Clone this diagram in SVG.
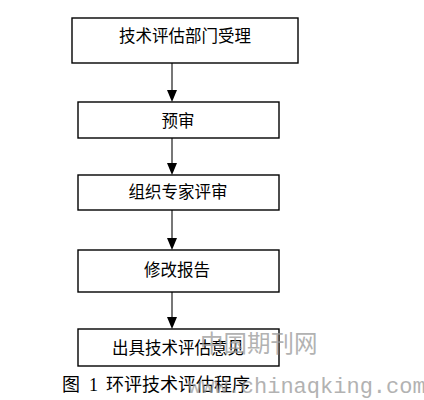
<svg xmlns="http://www.w3.org/2000/svg" width="424" height="400" viewBox="0 0 424 400">
<defs>
<style>
.box{fill:#fff;stroke:#000;stroke-width:1.4}
.lbl{font-family:"Noto Sans CJK SC",sans-serif;font-size:16.5px;fill:#000;text-anchor:middle}
.conn{stroke:#555;stroke-width:1.6;fill:none}
.head{fill:#000}
.cap{font-family:"Liberation Serif","Noto Sans CJK SC",serif;font-size:18px;fill:#000}
.wm{fill:#999;opacity:0.75}
</style>
</defs>
<rect width="424" height="400" fill="#fff"/>
<g id="connectors">
<line class="conn" x1="172" y1="63" x2="172" y2="92"/><polygon class="head" points="167,90 177,90 172,102"/>
<line class="conn" x1="172" y1="138" x2="172" y2="165"/><polygon class="head" points="167,163 177,163 172,175"/>
<line class="conn" x1="172" y1="210" x2="172" y2="240"/><polygon class="head" points="167,238 177,238 172,250"/>
<line class="conn" x1="172" y1="292" x2="172" y2="319"/><polygon class="head" points="167,317 177,317 172,329"/>
</g>
<g id="n1"><rect class="box" x="72" y="18" width="226" height="45"/><text class="lbl" x="185" y="42">技术评估部门受理</text></g>
<g id="n2"><rect class="box" x="78" y="102" width="201" height="36"/><text class="lbl" x="178" y="127">预审</text></g>
<g id="n3"><rect class="box" x="78" y="175" width="201" height="35"/><text class="lbl" x="178" y="198">组织专家评审</text></g>
<g id="n4"><rect class="box" x="78" y="250" width="201" height="42"/><text class="lbl" x="177" y="276">修改报告</text></g>
<g id="n5"><rect class="box" x="78" y="329" width="201" height="37"/><text class="lbl" x="178" y="354">出具技术评估意见</text></g>
<text class="cap" y="391"><tspan x="62">图</tspan><tspan x="89">1</tspan><tspan x="106">环评技术评估程序</tspan></text>
<g id="watermark">
<text class="wm" x="200" y="352" font-family="Liberation Serif,'Noto Sans CJK SC',serif" font-size="23.5">中国期刊网</text>
<text class="wm" x="188" y="393" font-family="Liberation Mono,monospace" font-size="22">www.chinaqking.com</text>
</g>
</svg>
